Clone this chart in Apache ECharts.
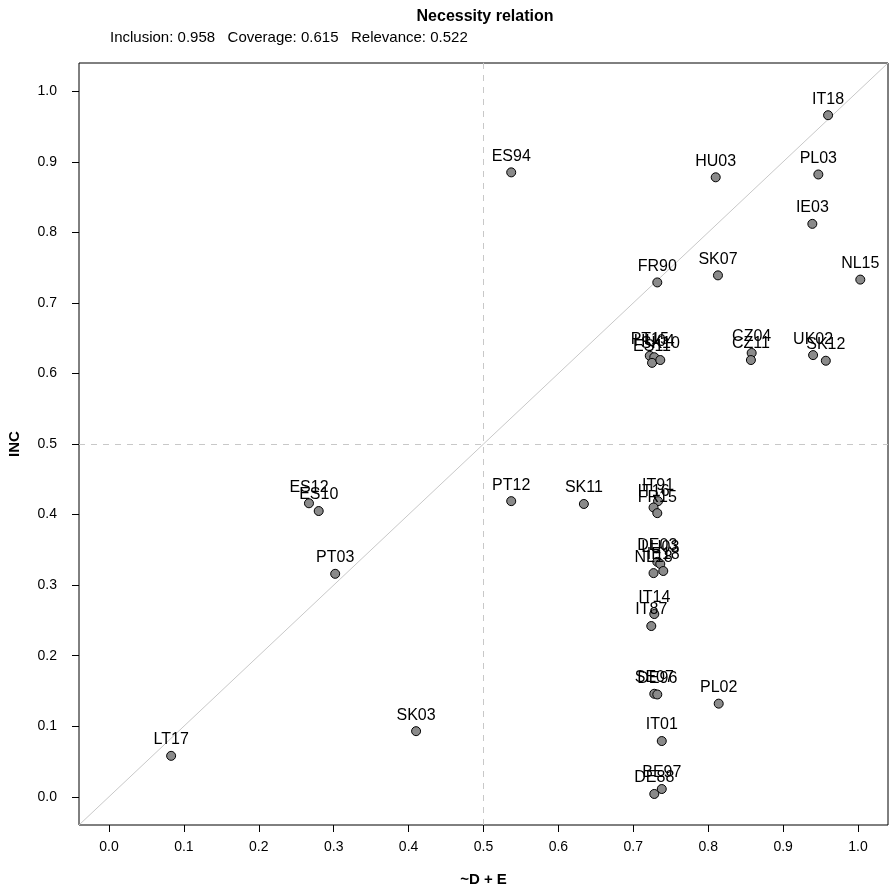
<!DOCTYPE html>
<html>
<head>
<meta charset="UTF-8">
<title>Necessity relation</title>
<script src="https://cdn.jsdelivr.net/npm/echarts@6.0.0/dist/echarts.min.js"></script>
<style>
    body { margin: 0; background: #fff; }
    #chart { width: 889px; height: 894px; }
</style>
</head>
<body>
<div id="chart"></div>
<script>
    // cases: labels, x (~D + E) and y (INC)
    const caseNames = ['IT18', 'PL03', 'HU03', 'ES94', 'IE03', 'NL15', 'SK07', 'FR90',
        'PT15', 'HU04', 'ES11', 'SK10', 'CZ04', 'CZ11', 'UK02', 'SK12',
        'ES12', 'ES10', 'PT12', 'SK11', 'IT91', 'IT16', 'FR15',
        'DE03', 'LU03', 'NL18', 'IE18', 'PT03', 'IT14', 'IT87',
        'SE07', 'DE96', 'PL02', 'IT01', 'BE97', 'DE88', 'SK03', 'LT17'];
    const xValues = [0.960, 0.947, 0.810, 0.537, 0.939, 1.003, 0.813, 0.732,
        0.722, 0.728, 0.725, 0.736, 0.858, 0.857, 0.940, 0.957,
        0.267, 0.280, 0.537, 0.634, 0.733, 0.727, 0.732,
        0.732, 0.736, 0.727, 0.740, 0.302, 0.728, 0.724,
        0.728, 0.732, 0.814, 0.738, 0.738, 0.728, 0.410, 0.083];
    const yValues = [0.966, 0.882, 0.878, 0.885, 0.812, 0.733, 0.739, 0.729,
        0.625, 0.623, 0.615, 0.619, 0.629, 0.619, 0.626, 0.618,
        0.416, 0.405, 0.419, 0.415, 0.419, 0.410, 0.402,
        0.333, 0.330, 0.317, 0.320, 0.316, 0.259, 0.242,
        0.146, 0.145, 0.132, 0.079, 0.011, 0.004, 0.093, 0.058];

    const tickValues = [0, 0.1, 0.2, 0.3, 0.4, 0.5, 0.6, 0.7, 0.8, 0.9, 1.0];
    const axisRange = [-0.04, 1.04];
    const diagonal = [[-0.04, -0.04], [1.04, 1.04]];
    const subtitle = 'Inclusion: 0.958   Coverage: 0.615   Relevance: 0.522';

    const chart = echarts.init(document.getElementById('chart'));

    const font = 'Liberation Sans, Arial, sans-serif';

    function makeAxis(name, isX) {
        return {
            type: 'value',
            min: axisRange[0],
            max: axisRange[1],
            name: name,
            nameLocation: 'middle',
            nameGap: isX ? 47 : 57,
            nameTextStyle: { fontFamily: font, fontSize: 15, fontWeight: 'bold', color: '#000' },
            axisLine: { show: false, onZero: false },
            axisTick: {
                show: true, inside: false, length: 7,
                customValues: tickValues,
                lineStyle: { color: '#000', width: 1 }
            },
            axisLabel: {
                customValues: tickValues,
                formatter: v => v.toFixed(1),
                margin: isX ? 15 : 22,
                fontFamily: font, fontSize: 14, color: '#000'
            },
            splitLine: { show: false }
        };
    }

    const option = {
        animation: false,
        backgroundColor: '#fff',
        title: [
            {
                text: 'Necessity relation',
                left: 485, top: 9, textAlign: 'center', padding: 0,
                textStyle: { fontFamily: font, fontSize: 16, fontWeight: 'bold', color: '#000' }
            },
            {
                text: subtitle,
                left: 110, top: 30, padding: 0,
                textStyle: { fontFamily: font, fontSize: 15, fontWeight: 'normal', color: '#000' }
            }
        ],
        grid: {
            left: 79, right: 1, top: 63, bottom: 69,
            outerBoundsMode: 'none',
            containLabel: false,
            show: true, borderColor: '#000', borderWidth: 1,
            backgroundColor: 'transparent'
        },
        xAxis: makeAxis('~D + E', true),
        yAxis: makeAxis('INC', false),
        series: [
            {
                type: 'line',
                data: diagonal,
                symbol: 'none',
                silent: true,
                lineStyle: { color: '#c8c8c8', width: 1 },
                markLine: {
                    silent: true,
                    symbol: 'none',
                    label: { show: false },
                    lineStyle: { color: '#c8c8c8', type: [6, 6], width: 1 },
                    data: [{ xAxis: 0.5 }, { yAxis: 0.5 }]
                },
                z: 1
            },
            {
                type: 'scatter',
                data: caseNames.map((n, i) => ({ name: n, value: [xValues[i], yValues[i]] })),
                symbolSize: 9,
                itemStyle: { color: '#8a8a8a', borderColor: '#000', borderWidth: 1, opacity: 1 },
                label: {
                    show: true,
                    position: 'top',
                    distance: 3,
                    formatter: p => p.name,
                    fontFamily: font, fontSize: 16, color: '#000'
                },
                z: 3
            }
        ]
    };

    chart.setOption(option);
</script>
</body>
</html>
